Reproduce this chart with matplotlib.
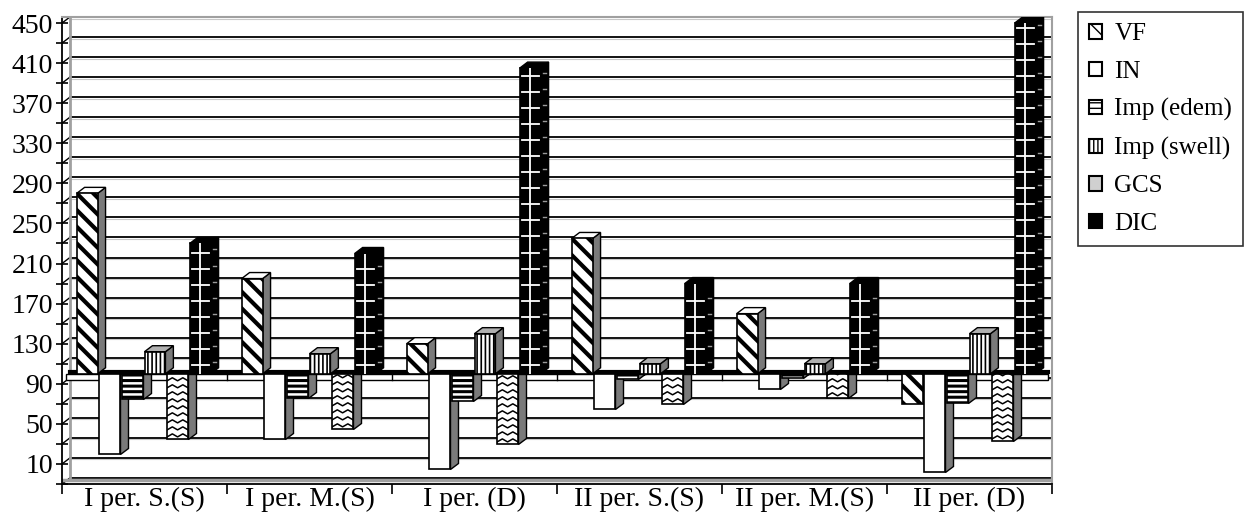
import numpy as np
import matplotlib.pyplot as plt
from matplotlib.patches import Polygon, Rectangle, Patch

plt.rcParams['font.family'] = ['Liberation Serif', 'DejaVu Serif']

periods = ["I per. S.(S)", "I per. M.(S)", "I per. (D)",
           "II per. S.(S)", "II per. M.(S)", "II per. (D)"]
series = ["VF", "IN", "Imp (edem)", "Imp (swell)", "GCS", "DIC"]

vf = [280, 195, 130, 235, 160, 70]
in_vals = [20, 35, 5, 65, 85, 2]
imp_edem = [75, 76, 73, 95, 96, 71]
imp_swell = [122, 120, 140, 110, 110, 140]
gcs = [35, 45, 30, 70, 76, 33]
dic = [230, 220, 405, 190, 190, 450]

values = [vf, in_vals, imp_edem, imp_swell, gcs, dic]

BASE = 100          # horizontal axis crosses here
W = 0.127           # bar front width
STEP = 0.137        # distance between bars in a group
DX, DY = 0.048, 6   # fake depth of the 3d look

styles = [
    dict(fc="white", hatch="\\\\", hlw=3.0, side="#7a7a7a", top="white"),
    dict(fc="white", hatch=None, hlw=1.0, side="#7a7a7a", top="white"),
    dict(fc="white", hatch="---", hlw=2.2, side="#7a7a7a", top="white"),
    dict(fc="white", hatch="||||", hlw=1.2, side="#7a7a7a", top="#b0b0b0"),
    dict(fc="white", hatch=None, hlw=1.0, side="#7a7a7a", top="white"),
    dict(fc="black", hatch=None, hlw=1.0, side="black", top="black"),
]

fig = plt.figure(figsize=(12.44, 5.15), dpi=100)
ax = fig.add_axes([62 / 1244, 31 / 515, 990 / 1244, 467 / 515])
ax.set_xlim(-0.5, 5.5)
ax.set_ylim(-10, 456)

x = np.arange(len(periods))

# back wall: grid lines shifted by the depth offset
wall_x = -0.5 + DX
for v in np.arange(-10, 451, 20):
    ax.plot([wall_x, 5.5], [v + DY, v + DY], color="black", lw=1.3, zorder=1)
    ax.plot([wall_x, 5.5], [v + DY - 1.5, v + DY - 1.5], color="#c8c8c8", lw=0.8, zorder=0.9)
    ax.plot([-0.5, wall_x], [v, v + DY], color="black", lw=1.0, zorder=1)
ax.plot([wall_x, wall_x], [-10 + DY, 456], color="#a0a0a0", lw=2, zorder=1)
ax.plot([-0.5, 5.5], [-10 + DY - 2, -10 + DY - 2], color="#a0a0a0", lw=2.5, zorder=1)

# floor slab at the base value
ax.add_patch(Rectangle((-0.5 + DX / 2, BASE - 6), 6 - DX, 6, facecolor="white",
                       edgecolor="black", lw=1.0, zorder=2))
for b in np.arange(0.5, 5.5, 1):
    ax.plot([b, b], [BASE - 6, BASE], color="black", lw=1.0, zorder=2)
ax.plot([-0.5 + DX, 5.5 - DX / 2], [BASE + 2, BASE + 2], color="black", lw=3, zorder=2)

for i, (vals, st) in enumerate(zip(values, styles)):
    pos = x + (i - 2.5) * STEP - 0.005
    z = 3 + i
    with plt.rc_context({"hatch.linewidth": st["hlw"]}):
        bars = ax.bar(pos, np.array(vals) - BASE, bottom=BASE, width=W,
                      facecolor=st["fc"], edgecolor="black", hatch=st["hatch"],
                      lw=1.2, zorder=z + 0.2)
    for p, v, bar in zip(pos, vals, bars):
        x0 = p - W / 2
        lo, hi = min(BASE, v), max(BASE, v)
        if v >= BASE:
            side = [(x0 + W, lo), (x0 + W, hi), (x0 + W + DX, hi + DY), (x0 + W + DX, lo + DY)]
            top = [(x0, hi), (x0 + W, hi), (x0 + W + DX, hi + DY), (x0 + DX, hi + DY)]
            ax.add_patch(Polygon(top, closed=True, facecolor=st["top"], edgecolor="black",
                                 lw=1.0, zorder=z + 0.1))
        else:
            side = [(x0 + W, lo), (x0 + W, hi), (x0 + W + DX, hi), (x0 + W + DX, lo + DY)]
        ax.add_patch(Polygon(side, closed=True, facecolor=st["side"], edgecolor="black",
                             lw=1.0, zorder=z))

        if series[i] == "GCS":
            # wavy chevrons on the front face
            xs = x0 + W * np.array([0, 0.25, 0.5, 0.75, 1.0])
            for yy in np.arange(lo + 2, hi, 7):
                ln, = ax.plot(xs, yy + np.array([0, 3, 0, 3, 0]), color="black",
                              lw=1.1, zorder=z + 0.3)
                ln.set_clip_path(bar)
        if series[i] == "DIC":
            # white cross marks on the black bar
            ln, = ax.plot([x0 + W * 0.5, x0 + W * 0.5], [lo, hi], color="white",
                          lw=1.3, zorder=z + 0.3)
            ln.set_clip_path(bar)
            for yy in np.arange(lo + 9, hi - 2, 16):
                ln, = ax.plot([x0 + W * 0.1, x0 + W * 0.9], [yy, yy], color="white",
                              lw=1.3, zorder=z + 0.3)
                ln.set_clip_path(bar)
                ax.plot([x0 + W + DX * 0.3, x0 + W + DX * 0.7], [yy + 3, yy + 3],
                        color="#9a9a9a", lw=1.0, zorder=z + 0.3)

# axes and ticks
for s in ["top", "right"]:
    ax.spines[s].set_color("#a0a0a0")
    ax.spines[s].set_linewidth(1.5)
for s in ["left", "bottom"]:
    ax.spines[s].set_linewidth(1.3)

ax.set_yticks(np.arange(10, 451, 40))
ax.set_yticks(np.arange(-10, 451, 40), minor=True)
ax.tick_params(axis="y", which="both", direction="inout", length=9, width=1.2,
               labelsize=20, pad=2)
ax.set_xticks(np.arange(-0.5, 5.6, 1))
ax.set_xticklabels([])
ax.set_xticks(x, minor=True)
ax.set_xticklabels(periods, minor=True)
ax.tick_params(axis="x", which="major", direction="out", length=7, width=1.2)
ax.tick_params(axis="x", which="minor", length=0, labelsize=20, pad=2)

# legend with small pattern swatches
handles = []
for st, name in zip(styles, series):
    with plt.rc_context({"hatch.linewidth": 1.5}):
        handles.append(Patch(facecolor=st["fc"] if name != "GCS" else "#d0d0d0",
                             edgecolor="black", hatch=st["hatch"], lw=1.5, label=name))
leg = fig.legend(handles=handles, loc="upper left", bbox_to_anchor=(1078 / 1244, 1 - 12 / 515),
                 fontsize=18, frameon=True, fancybox=False, handlelength=0.5,
                 handleheight=0.5, handletextpad=0.5, labelspacing=0.62,
                 borderpad=0.45, borderaxespad=0)
leg.get_frame().set_edgecolor("black")
leg.get_frame().set_linewidth(1.2)

fig.savefig("out.png", dpi=100)
